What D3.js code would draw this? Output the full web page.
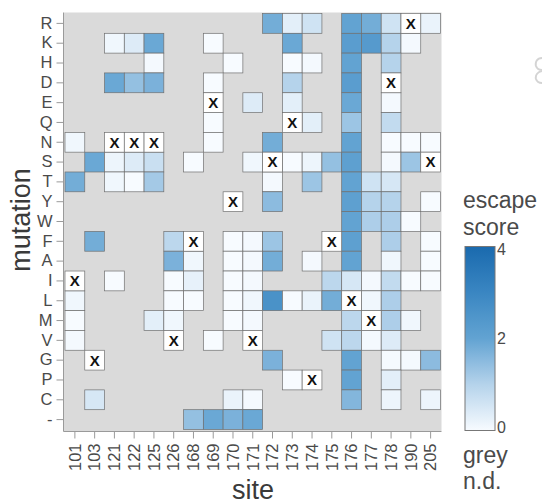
<!DOCTYPE html>
<html lang="en">
<head>
  <meta charset="UTF-8" />
  <title>Escape score heatmap</title>
  <script src="https://d3js.org/d3.v7.min.js"></script>
  <style>
    body { margin: 0; background: #ffffff; }
    svg { font-family: 'Liberation Sans', Arial, sans-serif; }
    .axis path, .axis line { stroke: #9a9a9a; }
    .axis text { fill: #4a4a4a; font-size: 16.5px; }
    .title { fill: #3a3a3a; font-size: 27px; }
    .legend text { fill: #4a4a4a; }
  </style>
</head>
<body>
  <svg id="chart" width="542" height="504"></svg>

  <script>
    const sites = ["101","103","121","122","125","126","168","169","170","171",
                   "172","173","174","175","176","177","178","190","205"];
    const mutations = ["R","K","H","D","E","Q","N","S","T","Y","W","F","A","I",
                       "L","M","V","G","P","C","-"];

    // [mutation, site, escape score]
    const scores = [
      ["R","172",1.8],["R","173",0.3],["R","174",0.6],["R","176",2.0],["R","177",1.8],["R","178",0.6],["R","205",0.2],
      ["K","121",0.1],["K","122",0.4],["K","125",1.9],["K","169",0.0],["K","173",1.9],["K","176",2.2],["K","177",2.3],["K","178",1.0],["K","190",0.05],
      ["H","125",0.05],["H","170",0.0],["H","173",0.0],["H","174",0.05],["H","176",2.0],["H","178",1.0],
      ["D","121",1.9],["D","122",1.4],["D","125",1.7],["D","169",0.0],["D","173",1.0],["D","176",2.2],
      ["E","171",0.4],["E","173",0.3],["E","176",1.9],["E","178",0.05],
      ["Q","169",0.0],["Q","174",0.3],["Q","176",1.3],["Q","178",0.8],
      ["N","101",0.1],["N","169",0.0],["N","172",1.8],["N","176",2.0],["N","178",0.0],["N","190",0.0],["N","205",0.0],
      ["S","103",1.9],["S","121",0.15],["S","122",0.4],["S","125",0.7],["S","168",0.0],["S","171",0.1],["S","173",0.0],
      ["S","174",0.15],["S","175",1.4],["S","176",2.1],["S","178",0.05],["S","190",1.3],
      ["T","101",1.8],["T","121",0.1],["T","122",0.0],["T","125",1.2],["T","172",0.05],["T","174",1.3],["T","176",2.0],["T","177",0.6],["T","178",0.5],
      ["Y","172",1.5],["Y","176",2.1],["Y","177",1.0],["Y","178",1.0],["Y","205",0.0],
      ["W","176",2.0],["W","177",1.1],["W","178",1.1],["W","190",0.0],
      ["F","103",1.8],["F","126",0.9],["F","170",0.0],["F","171",0.05],["F","172",1.3],["F","176",2.1],["F","178",1.1],["F","205",0.0],
      ["A","126",1.7],["A","168",0.1],["A","170",0.0],["A","171",0.05],["A","172",1.8],["A","174",0.05],["A","176",2.0],["A","178",0.1],["A","205",0.0],
      ["I","121",0.0],["I","126",0.0],["I","168",0.25],["I","170",0.0],["I","171",0.05],["I","175",0.9],["I","176",0.5],["I","177",0.05],["I","178",0.8],["I","190",0.0],["I","205",0.0],
      ["L","101",0.1],["L","126",0.0],["L","168",0.0],["L","170",0.0],["L","171",0.1],["L","172",2.6],["L","173",0.0],["L","174",0.2],["L","175",1.8],["L","177",0.1],["L","178",1.1],
      ["M","101",0.0],["M","125",0.3],["M","126",0.1],["M","170",0.0],["M","171",0.05],["M","176",0.9],["M","178",1.1],["M","190",0.1],
      ["V","101",0.05],["V","169",0.0],["V","175",0.6],["V","176",0.9],["V","177",0.05],["V","178",0.4],
      ["G","172",1.7],["G","176",2.0],["G","178",0.03],["G","190",0.05],["G","205",1.5],
      ["P","173",0.0],["P","176",2.0],["P","178",0.3],
      ["C","103",0.5],["C","170",0.2],["C","171",0.05],["C","176",1.6],["C","178",0.15],["C","205",0.15],
      ["-","168",1.4],["-","169",1.9],["-","170",1.7],["-","171",1.9]
    ];

    // wildtype residues, drawn as white cells marked X
    const wildtype = [
      ["R","190"],["D","178"],["E","169"],["Q","173"],["N","121"],["N","122"],["N","125"],
      ["S","172"],["S","205"],["Y","170"],["F","168"],["F","175"],["I","101"],["L","176"],
      ["M","177"],["V","126"],["V","171"],["G","103"],["P","174"]
    ];

    const legendTicks = [0, 2, 4];

    const svg = d3.select("#chart");

    const x = d3.scaleBand().domain(sites).range([65, 440.5]);
    const y = d3.scaleBand().domain(mutations).range([13.5, 429.5]);

    const color = d3.scaleLinear()
      .domain([0, 1, 2, 3, 4])
      .range(["#f7fbff", "#b5d3eb", "#62a3d2", "#3a86c2", "#1a6aae"])
      .interpolate(d3.interpolateRgb);

    // grey panel = not determined
    svg.append("rect")
      .attr("x", 64).attr("y", 12.5)
      .attr("width", 377.5).attr("height", 418.5)
      .attr("fill", "#dadada");

    svg.append("g")
      .selectAll("rect")
      .data(scores)
      .join("rect")
        .attr("x", d => x(d[1]))
        .attr("y", d => y(d[0]))
        .attr("width", x.bandwidth())
        .attr("height", y.bandwidth())
        .attr("fill", d => color(d[2]))
        .attr("stroke", "#707070")
        .attr("stroke-width", 0.7);

    const wt = svg.append("g")
      .selectAll("g")
      .data(wildtype)
      .join("g");

    wt.append("rect")
        .attr("x", d => x(d[1]))
        .attr("y", d => y(d[0]))
        .attr("width", x.bandwidth())
        .attr("height", y.bandwidth())
        .attr("fill", "#ffffff")
        .attr("stroke", "#707070")
        .attr("stroke-width", 0.7);

    wt.append("text")
        .attr("x", d => x(d[1]) + x.bandwidth() / 2)
        .attr("y", d => y(d[0]) + y.bandwidth() / 2)
        .attr("dy", "0.36em")
        .attr("text-anchor", "middle")
        .attr("font-size", 15)
        .attr("font-weight", "bold")
        .attr("fill", "#111")
        .text("X");

    // axes
    svg.append("g")
      .attr("class", "axis")
      .attr("transform", "translate(63.5,0)")
      .call(d3.axisLeft(y).tickSize(7).tickSizeOuter(0).tickPadding(4))
      .call(g => g.select(".domain").attr("d", "M0,12.5V431.5"));

    svg.append("g")
      .attr("class", "axis")
      .attr("transform", "translate(0,431.5)")
      .call(d3.axisBottom(x).tickSize(7).tickSizeOuter(0).tickPadding(4))
      .call(g => g.select(".domain").attr("d", "M63.5,0H441.5"))
      .selectAll("text")
        .attr("transform", "rotate(-90)")
        .attr("text-anchor", "end")
        .attr("x", -12)
        .attr("y", 0)
        .attr("dy", "0.35em");

    svg.append("text")
      .attr("class", "title")
      .attr("transform", "translate(30,220) rotate(-90)")
      .attr("text-anchor", "middle")
      .text("mutation");

    svg.append("text")
      .attr("class", "title")
      .attr("x", 253).attr("y", 499)
      .attr("text-anchor", "middle")
      .text("site");

    // legend
    const legend = svg.append("g").attr("class", "legend");
    const defs = svg.append("defs");
    const grad = defs.append("linearGradient")
      .attr("id", "escgrad")
      .attr("x1", 0).attr("y1", 1).attr("x2", 0).attr("y2", 0);
    d3.range(0, 4.01, 0.5).forEach(v => {
      grad.append("stop").attr("offset", v / 4).attr("stop-color", color(v));
    });

    const ly = d3.scaleLinear().domain([0, 4]).range([427, 249]);

    legend.append("text").attr("x", 463).attr("y", 208).attr("font-size", 23).text("escape");
    legend.append("text").attr("x", 463).attr("y", 235).attr("font-size", 23).text("score");

    legend.append("rect")
      .attr("x", 465).attr("y", 246.5)
      .attr("width", 30).attr("height", 184)
      .attr("fill", "url(#escgrad)")
      .attr("stroke", "#777")
      .attr("stroke-width", 1);

    legend.selectAll(".lt")
      .data(legendTicks)
      .join("text")
        .attr("class", "lt")
        .attr("x", 497)
        .attr("y", d => ly(d))
        .attr("dy", "0.35em")
        .attr("font-size", 16)
        .text(d => d);

    legend.append("text").attr("x", 463).attr("y", 463).attr("font-size", 23).text("grey");
    legend.append("text").attr("x", 463).attr("y", 489).attr("font-size", 23).text("n.d.");

    // clipped piece of a neighbouring panel at the right edge
    svg.append("path")
      .attr("d", "M542,58 C537,58 535,62 536,66 C537,69 540,70 542,70 M542,71 C538,72 535,75 536,79 C537,82 540,83 542,83")
      .attr("fill", "none")
      .attr("stroke", "#d4d4d4")
      .attr("stroke-width", 2);
  </script>
</body>
</html>
